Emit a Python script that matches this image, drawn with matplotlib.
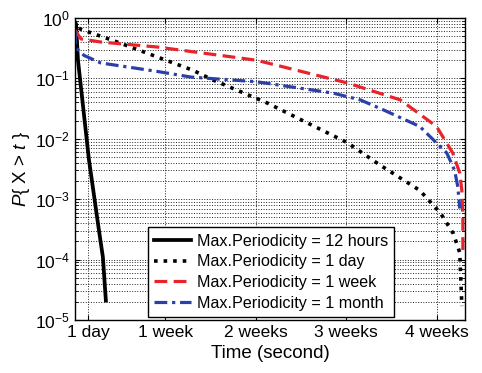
import numpy as np
import matplotlib
matplotlib.use('Agg')
import matplotlib.pyplot as plt

plt.rcParams['font.family'] = ['Liberation Sans', 'DejaVu Sans']
plt.rcParams['mathtext.fontset'] = 'custom'
plt.rcParams['mathtext.rm'] = 'Liberation Sans'
plt.rcParams['mathtext.it'] = 'Liberation Sans:italic'

DAY = 86400.0

# survival curves, x in days, y = P{X > t}
h12_days = [0.0, 0.08, 0.23, 1.08, 1.85, 2.16, 2.39]
h12_prob = [0.85, 0.8, 0.2, 4.5e-3, 3.1e-4, 1.1e-4, 2.1e-5]

d1_days = [0.3, 0.46, 3.0, 6.4, 9.1, 10.7, 14.9, 21.1, 23.6, 26.7, 28.3, 29.3, 29.8, 29.96]
d1_prob = [0.68, 0.65, 0.42, 0.225, 0.137, 0.094, 0.039, 0.0086, 0.0037, 0.0014, 5.9e-4, 2.7e-4, 1.3e-4, 1.7e-5]

w1_days = [0.0, 0.46, 2.0, 6.4, 14.05, 21.1, 25.2, 28.0, 29.26, 29.8, 29.96, 30.04, 30.04]
w1_prob = [0.63, 0.45, 0.4, 0.33, 0.2, 0.084, 0.044, 0.016, 0.0058, 0.0027, 0.0014, 5e-4, 1.2e-4]

m1_days = [0.0, 0.07, 0.7, 2.0, 6.4, 9.0, 14.05, 20.0, 22.1, 23.9, 26.7, 28.8, 29.4, 29.65, 29.8]
m1_prob = [0.6, 0.32, 0.24, 0.18, 0.13, 0.105, 0.088, 0.057, 0.044, 0.03, 0.016, 0.0058, 0.003, 0.0016, 7e-4]

tick_days = [1, 7, 14, 21, 28]
tick_labels = ['1 day', '1 week', '2 weeks', '3 weeks', '4 weeks']

fig = plt.figure(figsize=(4.82, 3.73), dpi=100)
ax = fig.add_axes([0.1556, 0.1421, 0.809, 0.8097])

lw = 2.3
ax.semilogy(np.array(h12_days) * DAY, h12_prob, '-', color='black', lw=lw + 0.4,
            label='Max.Periodicity = 12 hours')
ax.semilogy(np.array(d1_days) * DAY, d1_prob, ':', color='black', lw=lw + 0.3,
            label='Max.Periodicity = 1 day')
ax.semilogy(np.array(w1_days) * DAY, w1_prob, '--', color='#e8242a', lw=lw,
            dashes=(4, 2), label='Max.Periodicity = 1 week')
ax.semilogy(np.array(m1_days) * DAY, m1_prob, '-.', color='#2b3faa', lw=lw,
            dashes=(4, 1.5, 1, 1.5), label='Max.Periodicity = 1 month')

ax.set_xlim(0, 30.2 * DAY)
ax.set_ylim(1e-5, 1)
ax.set_xticks(np.array(tick_days) * DAY)
ax.set_xticklabels(tick_labels)

ax.grid(True, which='major', linestyle=':', color='#222222', lw=0.7)
ax.grid(True, which='minor', axis='y', linestyle=':', color='#222222', lw=0.7)
ax.tick_params(which='both', direction='in', top=True, right=True, labelsize=12.5)
ax.tick_params(axis='x', which='minor', bottom=False, top=False)
for s in ax.spines.values():
    s.set_linewidth(1.0)

ax.set_xlabel('Time (second)', fontsize=13.5)
ax.set_ylabel(r'$P${ X > $t$ }', fontsize=13.5, labelpad=2)

leg = ax.legend(loc='lower left', bbox_to_anchor=(0.187, 0.01), borderaxespad=0,
                fontsize=11.6, fancybox=False, framealpha=1, edgecolor='black',
                handlelength=2.3, handletextpad=0.32, labelspacing=0.35,
                borderpad=0.4)
leg.get_frame().set_linewidth(1.0)

fig.savefig('out.png', dpi=100)
